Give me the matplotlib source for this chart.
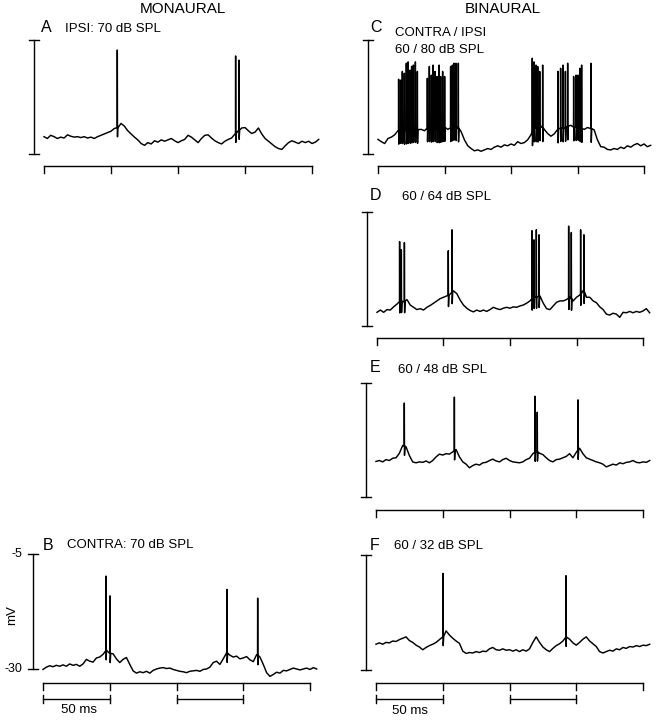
import numpy as np
import matplotlib.pyplot as plt

plt.rcParams['font.family'] = ['Liberation Sans', 'DejaVu Sans']

W, H = 658, 720

t_ms = np.arange(83) * 2.5

# membrane potential (mV), without the spikes
vm_a = [-26.2, -26.6, -25.9, -26.2, -26.6, -26.3, -26.5, -25.8, -26.1, -26.3,
        -26.2, -26.4, -26.2, -26.5, -26.3, -26.6, -26.2, -25.9, -25.6, -25.3,
        -25.0, -24.4, -24.2, -23.3, -23.9, -24.9, -25.6, -26.3, -26.9, -27.7,
        -28.1, -27.5, -27.8, -27.1, -27.4, -26.9, -27.2, -26.9, -26.6, -27.1,
        -27.5, -27.1, -26.8, -25.9, -26.3, -26.9, -27.5, -26.6, -25.9, -25.8,
        -26.5, -27.1, -27.5, -27.8, -27.2, -26.8, -26.5, -25.6, -24.9, -24.3,
        -24.2, -24.9, -25.5, -25.2, -24.3, -25.6, -26.6, -27.2, -27.8, -28.4,
        -28.8, -29.0, -28.2, -27.5, -27.1, -27.4, -27.7, -27.2, -27.5, -27.2,
        -27.7, -27.4, -26.8]
vm_b = [-30.1, -29.6, -29.3, -29.5, -29.2, -29.4, -29.1, -29.4, -28.9, -29.2,
        -29.0, -29.4, -28.9, -27.9, -28.3, -28.5, -27.6, -27.4, -26.8, -25.9,
        -26.6, -26.7, -27.8, -28.6, -27.9, -27.5, -29.0, -30.4, -30.9, -30.6,
        -30.8, -30.5, -30.9, -30.3, -30.0, -29.8, -29.7, -29.9, -29.8, -30.1,
        -30.3, -30.5, -30.6, -30.8, -30.5, -30.4, -30.3, -30.5, -30.1, -30.0,
        -29.6, -28.6, -28.3, -29.0, -27.8, -26.5, -27.0, -27.4, -27.2, -27.8,
        -27.6, -27.3, -28.0, -28.4, -26.9, -27.4, -29.0, -30.8, -31.6, -31.2,
        -30.7, -30.9, -30.3, -30.4, -30.1, -29.8, -30.0, -30.2, -30.0, -29.8,
        -30.1, -29.7, -30.0]
vm_c = [-26.8, -27.3, -27.7, -26.6, -26.3, -25.8, -24.9, -24.6, -24.9, -24.7,
        -24.6, -24.4, -24.7, -24.6, -24.9, -24.2, -24.4, -24.2, -24.6, -24.4,
        -24.2, -24.6, -24.2, -23.9, -24.2, -25.1, -26.9, -28.2, -28.8, -29.3,
        -29.1, -29.4, -29.1, -28.8, -29.0, -28.5, -28.2, -28.5, -28.0, -28.2,
        -27.8, -28.1, -27.3, -27.7, -27.5, -26.9, -25.8, -24.2, -24.4, -23.9,
        -24.6, -25.5, -26.1, -25.6, -24.6, -24.2, -24.4, -23.9, -23.7, -24.2,
        -23.9, -24.4, -24.6, -24.2, -24.4, -24.7, -26.9, -28.4, -28.5, -29.0,
        -29.1, -28.8, -29.0, -28.5, -28.8, -28.2, -28.5, -28.0, -27.7, -28.2,
        -27.8, -28.4, -28.1]
vm_d = [-27.0, -26.5, -27.0, -26.4, -26.5, -25.8, -25.2, -24.5, -24.7, -24.2,
        -25.4, -25.9, -26.4, -26.2, -26.5, -25.9, -25.5, -25.0, -24.5, -24.0,
        -23.7, -23.4, -23.0, -22.3, -22.9, -24.3, -25.4, -26.1, -26.6, -26.9,
        -26.5, -26.8, -26.5, -26.8, -26.4, -25.9, -26.2, -26.4, -26.1, -25.9,
        -26.1, -25.8, -25.9, -25.6, -25.4, -25.0, -24.5, -23.7, -23.6, -23.4,
        -25.0, -26.2, -26.4, -25.6, -24.8, -24.5, -24.5, -24.2, -23.7, -24.5,
        -23.7, -23.2, -22.2, -23.7, -23.7, -24.5, -24.9, -25.8, -26.4, -27.4,
        -27.6, -27.2, -27.4, -28.1, -27.0, -27.1, -26.8, -27.1, -26.8, -27.0,
        -26.7, -26.2, -27.1]
vm_e = [-22.2, -22.0, -22.3, -21.8, -22.0, -21.5, -21.4, -20.4, -18.7, -19.0,
        -20.9, -22.3, -22.5, -22.3, -22.4, -22.1, -22.5, -22.0, -21.2, -20.6,
        -20.8, -20.5, -20.6, -20.1, -19.6, -21.2, -22.3, -22.8, -23.6, -23.1,
        -22.8, -23.0, -22.5, -22.4, -22.0, -21.7, -22.1, -22.3, -21.8, -21.5,
        -22.0, -22.3, -22.4, -22.5, -22.3, -21.8, -21.5, -20.5, -20.0, -20.4,
        -20.7, -21.4, -22.0, -22.3, -21.8, -21.7, -21.4, -21.1, -20.5, -21.4,
        -20.2, -19.3, -20.5, -21.4, -21.7, -22.0, -22.3, -22.5, -22.8, -23.4,
        -23.1, -22.8, -23.0, -22.5, -22.7, -22.4, -22.3, -22.0, -22.4, -22.5,
        -22.3, -22.4, -22.0]
vm_f = [-24.4, -24.1, -24.4, -24.0, -24.1, -23.7, -23.8, -23.4, -23.1, -22.8,
        -23.6, -24.0, -24.6, -25.0, -25.6, -25.1, -24.7, -24.4, -24.0, -23.4,
        -22.8, -21.5, -22.4, -23.1, -23.7, -24.2, -25.9, -26.4, -26.2, -26.3,
        -26.0, -26.2, -25.9, -26.0, -25.4, -25.1, -25.6, -25.7, -25.4, -25.7,
        -25.6, -25.9, -25.6, -26.0, -25.6, -25.9, -25.4, -24.0, -22.8, -24.0,
        -25.0, -25.6, -26.0, -25.3, -24.7, -24.3, -23.7, -22.8, -23.3, -24.1,
        -24.6, -24.0, -23.3, -22.8, -23.7, -24.3, -24.9, -26.0, -26.3, -26.0,
        -25.7, -25.9, -25.4, -25.6, -25.1, -25.3, -24.9, -25.0, -24.7, -24.9,
        -24.6, -24.7, -24.4]

# spike times (ms) and peak potentials (mV)
spk_t_a = [54.7, 143.0, 145.5]
spk_v_a = [-7.2, -8.5, -9.4]
spk_t_b = [47.2, 50.2, 137.8, 160.8]
spk_v_b = [-9.8, -14.1, -12.7, -14.6]
spk_t_c = [15.5, 17.0, 18.3, 19.8, 21.3, 22.6, 24.1, 25.3, 26.6, 28.1, 29.6,
           37.1, 38.6, 40.1, 41.4, 42.9, 44.4, 45.9, 47.1, 48.6, 50.1,
           54.6, 55.9, 57.1, 58.6, 60.4,
           116.0, 117.3, 118.8, 120.1, 121.6, 123.8,
           135.3, 137.3, 139.1, 140.9, 142.6,
           147.1, 148.9, 150.4, 151.9, 153.1, 160.2]
spk_v_c = [-13.6, -13.8, -11.9, -12.3, -10.1, -9.8, -11.6, -10.8, -10.5, -9.8, -11.9,
           -13.4, -10.8, -12.7, -10.5, -11.9, -13.0, -10.5, -13.0, -11.9, -13.0,
           -10.8, -10.5, -10.1, -10.1, -10.1,
           -9.0, -9.8, -10.5, -10.8, -11.9, -10.5,
           -11.9, -11.2, -10.5, -11.9, -10.1,
           -13.0, -12.7, -12.7, -11.2, -10.5, -10.1]
spk_t_d = [17.0, 18.3, 20.6, 53.6, 56.4, 116.5, 118.0, 119.8, 121.8,
           144.1, 146.1, 153.1, 155.6]
spk_v_d = [-11.5, -13.3, -11.7, -13.5, -8.9, -9.1, -11.1, -8.9, -10.0,
           -8.1, -9.5, -8.9, -10.0]
spk_t_e = [21.2, 58.7, 119.1, 120.8, 151.3]
spk_v_e = [-9.4, -8.1, -7.9, -11.4, -8.7]
spk_t_f = [50.2, 142.3]
spk_v_f = [-9.0, -9.5]

stim_ticks = [0, 50, 100, 150, 200]
scale_bars = [(0, 50), (100, 150)]


def px(x, y):
    return x / W, 1 - y / H


def panel(fig, x0, x200, ytop, ybot):
    # full-figure axes whose data coords put 0/200 ms and -5/-30 mV at given pixels
    ax = fig.add_axes([0, 0, 1, 1])
    ax.patch.set_alpha(0)
    s = (x200 - x0) / 200.0
    v = (ybot - ytop) / 25.0
    ax.set_xlim(-x0 / s, (W - x0) / s)
    ax.set_ylim(-5 - (H - ytop) / v, -5 + ytop / v)
    ax.axis('off')
    return ax, s, v


def draw_trace(ax, vm, spk_t, spk_v, dip):
    tt = list(t_ms)
    vv = list(vm)
    for ts, pk in zip(spk_t, spk_v):
        base = float(np.interp(ts, t_ms, vm))
        tt += [ts - 0.1, ts, ts + 0.15, ts + 0.5]
        vv += [base, pk, base - dip, base]
    order = np.argsort(tt, kind='stable')
    ax.plot(np.array(tt)[order], np.array(vv)[order], color='black', lw=1.05)


def draw_frame(ax, s, v, ybar_px, tbar_px=None):
    kw = dict(color='black', lw=1.0)
    xb = -10 / s
    cap = 5 / s
    ax.plot([xb, xb], [-5, -30], **kw)
    ax.plot([xb - cap, xb + cap], [-5, -5], **kw)
    ax.plot([xb - cap, xb + cap], [-30, -30], **kw)
    ylim = ax.get_ylim()
    yb = ylim[1] - ybar_px / v
    ax.plot([stim_ticks[0], stim_ticks[-1]], [yb, yb], **kw)
    for tk in stim_ticks:
        ax.plot([tk, tk], [yb, yb - 7 / v], **kw)
    if tbar_px is not None:
        ys = ylim[1] - tbar_px / v
        for a, b in scale_bars:
            ax.plot([a, b], [ys, ys], **kw)
            ax.plot([a, a], [ys - 4 / v, ys + 4 / v], **kw)
            ax.plot([b, b], [ys - 4 / v, ys + 4 / v], **kw)


fig = plt.figure(figsize=(W / 100, H / 100), dpi=100)

ax, s, v = panel(fig, 44, 312, 40, 154)
draw_trace(ax, vm_a, spk_t_a, spk_v_a, 2.0)
draw_frame(ax, s, v, 166)

ax, s, v = panel(fig, 43, 310, 554, 669)
draw_trace(ax, vm_b, spk_t_b, spk_v_b, 2.0)
draw_frame(ax, s, v, 683, 699)

ax, s, v = panel(fig, 378, 644, 40, 154)
draw_trace(ax, vm_c, spk_t_c, spk_v_c, 3.0)
draw_frame(ax, s, v, 166)

ax, s, v = panel(fig, 377, 643, 212, 326)
draw_trace(ax, vm_d, spk_t_d, spk_v_d, 2.5)
draw_frame(ax, s, v, 338)

ax, s, v = panel(fig, 376, 643, 383, 497)
draw_trace(ax, vm_e, spk_t_e, spk_v_e, 2.0)
draw_frame(ax, s, v, 510)

ax, s, v = panel(fig, 376, 643, 555, 670)
draw_trace(ax, vm_f, spk_t_f, spk_v_f, 2.0)
draw_frame(ax, s, v, 683, 699)


# texts
def label(x, y, txt, size=9.5, **kw):
    fig.text(*px(x, y), txt, fontsize=size, va='center', **kw)


label(183, 9, 'MONAURAL', 11, ha='center')
label(503, 9, 'BINAURAL', 11, ha='center')

label(41, 28, 'A', 11.5)
label(65, 29, 'IPSI: 70 dB SPL')
label(370, 28, 'C', 11.5)
label(395, 33, 'CONTRA / IPSI')
label(395, 50, '60 / 80 dB SPL')
label(370, 196, 'D', 11.5)
label(402, 197, '60 / 64 dB SPL')
label(370, 367, 'E', 11.5)
label(398, 370, '60 / 48 dB SPL')
label(370, 545, 'F', 11.5)
label(394, 546, '60 / 32 dB SPL')
label(43, 545, 'B', 11.5)
label(67, 545, 'CONTRA: 70 dB SPL')

label(22, 554, '-5', 9, ha='right')
label(22, 669, '-30', 9, ha='right')
fig.text(*px(12, 615), 'mV', fontsize=9.5, rotation=90, ha='center', va='center')
label(79, 710, '50 ms', 9.5, ha='center')
label(410, 711, '50 ms', 9.5, ha='center')

fig.savefig('out.png', dpi=100)
